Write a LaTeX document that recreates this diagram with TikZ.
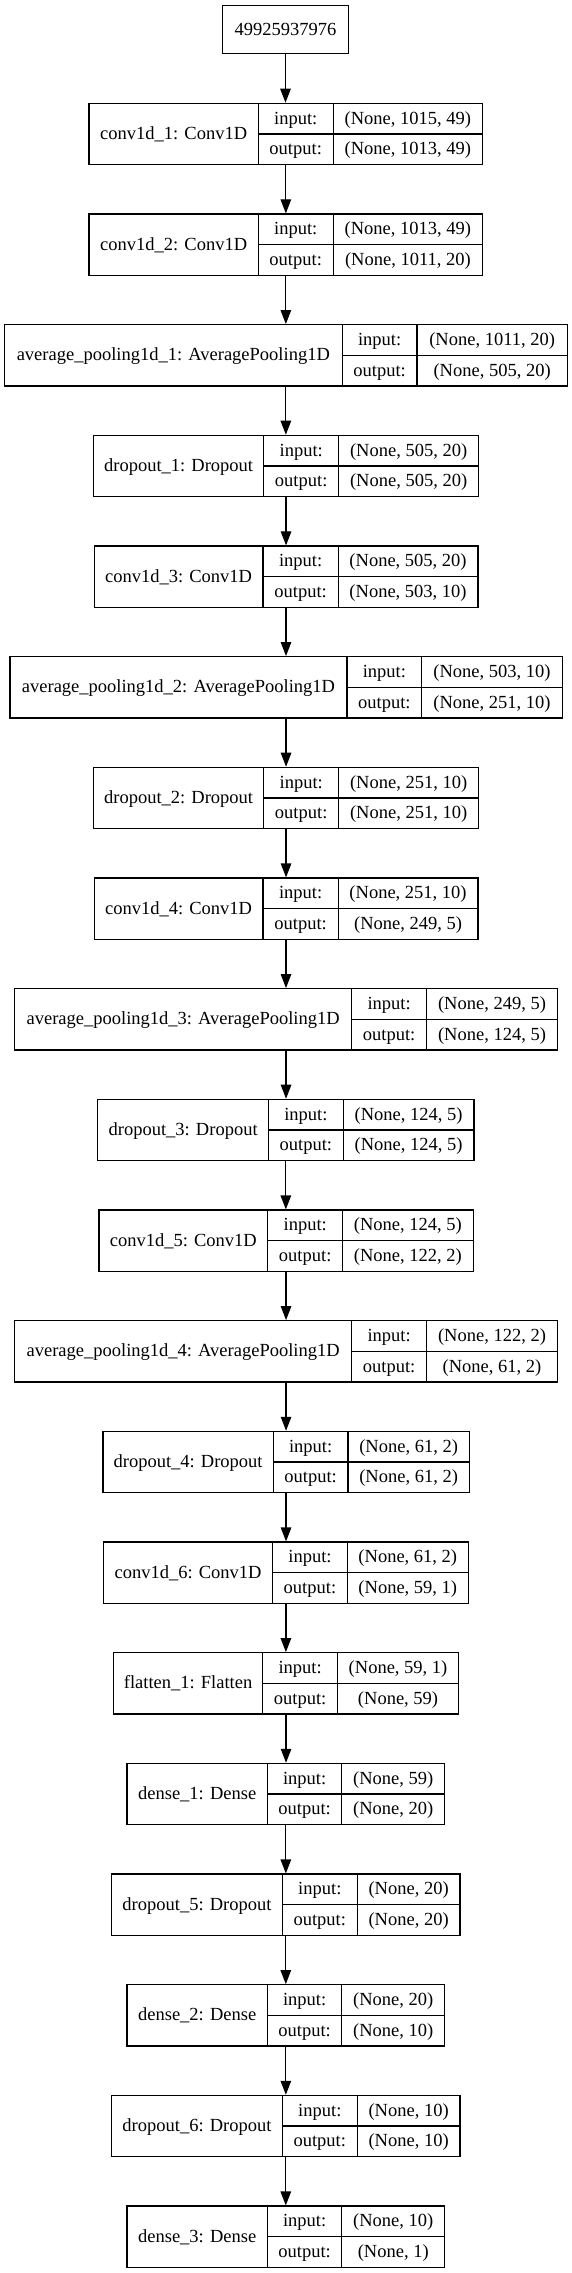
\documentclass[tikz,border=0pt]{standalone}
\usepackage{fontspec}
\setmainfont{Liberation Serif}
\usetikzlibrary{arrows.meta}
\tikzset{
  boxst/.style={draw=black, line width=1.2pt, rectangle, inner sep=0pt},
  cellline/.style={draw=black, line width=1.2pt},
  txt/.style={inner sep=0pt, anchor=base, font=\fontsize{18.5}{22}\selectfont},
  arr/.style={draw=black, line width=1.2pt, -{Triangle[length=14pt, width=10.5pt]}}
}
\newcommand\klayer[9]{%
  \pgfmathsetmacro\kt{103.3+110.67*#2}%
  \pgfmathsetmacro\kb{\kt+61.3}%
  \pgfmathsetmacro\km{\kt+30.65}%
  \node[boxst, minimum width={(#6-#3)*1pt}, minimum height=61.3pt] (#1) at ({(#3+#6)/2},\km) {};
  \draw[cellline] (#4,\kt) -- (#4,\kb);
  \draw[cellline] (#5,\kt) -- (#5,\kb);
  \draw[cellline] (#4,\km) -- (#6,\km);
  \node[txt] (#1-name) at ({(#3+#4)/2},{\km+5.5}) {#7};
  \node[txt] (#1-ilab) at ({(#4+#5)/2},{\kt+15.3+5.5}) {input:};
  \node[txt] (#1-olab) at ({(#4+#5)/2},{\kt+46+5.5}) {output:};
  \node[txt] (#1-ival) at ({(#5+#6)/2},{\kt+15.3+5.5}) {#8};
  \node[txt] (#1-oval) at ({(#5+#6)/2},{\kt+46+5.5}) {#9};
}
\begin{document}
\begin{tikzpicture}[x=1pt, y=-1pt]
\useasboundingbox (0,0) rectangle (572,2273);
\node[boxst, minimum width=125.6pt, minimum height=47.6pt] (in) at (285.5,29.5) {};
\node[txt] (in-name) at (285.5,35) {49925937976};
\klayer{c1}{0}{89}{258.3}{333.1}{482.7}{conv1d\_1: Conv1D}{(None, 1015, 49)}{(None, 1013, 49)}
\klayer{c2}{1}{89}{258.3}{333.1}{482.7}{conv1d\_2: Conv1D}{(None, 1013, 49)}{(None, 1011, 20)}
\klayer{p1}{2}{4.4}{342.2}{417}{567.3}{average\_pooling1d\_1: AveragePooling1D}{(None, 1011, 20)}{(None, 505, 20)}
\klayer{d1}{3}{93.4}{263.8}{338.6}{478.7}{dropout\_1: Dropout}{(None, 505, 20)}{(None, 505, 20)}
\klayer{c3}{4}{94.1}{263.0}{338.2}{477.9}{conv1d\_3: Conv1D}{(None, 505, 20)}{(None, 503, 10)}
\klayer{p2}{5}{9.9}{347}{421.7}{562.2}{average\_pooling1d\_2: AveragePooling1D}{(None, 503, 10)}{(None, 251, 10)}
\klayer{d2}{6}{93.4}{263.8}{338.6}{478.7}{dropout\_2: Dropout}{(None, 251, 10)}{(None, 251, 10)}
\klayer{c4}{7}{94.1}{263.0}{338.2}{477.9}{conv1d\_4: Conv1D}{(None, 251, 10)}{(None, 249, 5)}
\klayer{p3}{8}{14.6}{351.7}{426.5}{557.5}{average\_pooling1d\_3: AveragePooling1D}{(None, 249, 5)}{(None, 124, 5)}
\klayer{d3}{9}{97.8}{268.5}{343.3}{473.9}{dropout\_3: Dropout}{(None, 124, 5)}{(None, 124, 5)}
\klayer{c5}{10}{98.9}{267.8}{342.6}{473.2}{conv1d\_5: Conv1D}{(None, 124, 5)}{(None, 122, 2)}
\klayer{p4}{11}{14.6}{351.7}{426.5}{557.5}{average\_pooling1d\_4: AveragePooling1D}{(None, 122, 2)}{(None, 61, 2)}
\klayer{d4}{12}{102.9}{273.3}{348}{469.2}{dropout\_4: Dropout}{(None, 61, 2)}{(None, 61, 2)}
\klayer{c6}{13}{103.4}{272.7}{347.2}{468.4}{conv1d\_6: Conv1D}{(None, 61, 2)}{(None, 59, 1)}
\klayer{f1}{14}{113.5}{262.7}{337.5}{458.6}{flatten\_1: Flatten}{(None, 59, 1)}{(None, 59)}
\klayer{e1}{15}{127}{267.4}{341.8}{444.7}{dense\_1: Dense}{(None, 59)}{(None, 20)}
\klayer{d5}{16}{111.6}{282.4}{357.2}{460}{dropout\_5: Dropout}{(None, 20)}{(None, 20)}
\klayer{e2}{17}{127}{267.4}{341.8}{444.7}{dense\_2: Dense}{(None, 20)}{(None, 10)}
\klayer{d6}{18}{111.6}{282.4}{357.2}{460}{dropout\_6: Dropout}{(None, 10)}{(None, 10)}
\klayer{e3}{19}{127}{267.4}{341.8}{444.7}{dense\_3: Dense}{(None, 10)}{(None, 1)}
\foreach \a/\b in {in/c1,c1/c2,c2/p1,p1/d1,d1/c3,c3/p2,p2/d2,d2/c4,c4/p3,p3/d3,d3/c5,c5/p4,p4/d4,d4/c6,c6/f1,f1/e1,e1/d5,d5/e2,e2/d6,d6/e3}
  \draw[arr] (\a.south) -- (\a.south |- \b.north);
\end{tikzpicture}
\end{document}
